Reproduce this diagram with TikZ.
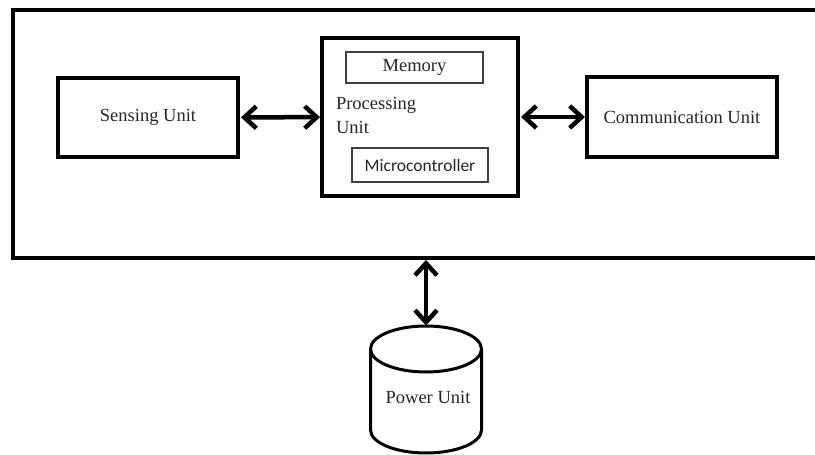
\documentclass[tikz,border=0pt]{standalone}
\usepackage{fontspec}
\setmainfont{Liberation Serif}
\newfontfamily\serfont{Liberation Serif}
\newfontfamily\calfont{Carlito}
\usetikzlibrary{arrows.meta}

\begin{document}
\begin{tikzpicture}[x=1pt, y=-1pt,
  every node/.style={inner sep=0pt, outer sep=0pt, text=black!85,
                     font=\serfont\fontsize{18.5}{22}\selectfont},
  unitbox/.style={draw=black, line width=3.8pt, rectangle},
  subbox/.style={draw=black!75, line width=1.1pt, rectangle},
  barbs/.style={{Straight Barb[length=12pt,width=22pt]}-{Straight Barb[length=12pt,width=22pt]}},
  biarrow/.style={draw=black, line width=4.5pt, barbs,
                  shorten <=3pt, shorten >=2pt},
]
\useasboundingbox (0,0) rectangle (815,455);
\clip (0,0) rectangle (815,455);

% sensor node enclosure (runs off to the right)
\node[unitbox, line width=4pt, minimum width=807pt, minimum height=248pt]
  (outer) at (416.5,134) {};

% units
\node[unitbox, minimum width=180pt, minimum height=79pt] (sense) at (148,117.5) {Sensing Unit};
\node[unitbox, minimum width=196pt, minimum height=158pt] (proc) at (420,117) {};
\node[unitbox, minimum width=190pt, minimum height=80pt] (comm) at (682,117) {Communication Unit};

% inside the processing unit
\node[subbox, minimum width=137pt, minimum height=31pt] (mem) at (414.5,67.5) {Memory};
\node[anchor=west, align=left, font=\serfont\fontsize{18.5}{24.5}\selectfont] (ptext) at (336,115.5) {Processing\\Unit};
\node[subbox, minimum width=136pt, minimum height=34pt, font=\calfont\fontsize{17.5}{20}\selectfont]
  (mcu) at (420,165) {Microcontroller};

% power unit cylinder
\coordinate (ptop) at (426,326);
\draw[line width=3pt] (426,349) ellipse [x radius=55.5, y radius=23];
\draw[line width=3pt] (370.5,349) -- (370.5,430)
  arc[start angle=180, end angle=0, x radius=55.5, y radius=23] -- (481.5,349);
\node (power) at (428,397) {Power Unit};

% connections
\draw[biarrow] (sense) -- (proc);
\draw[biarrow] (proc) -- (comm);
\draw[biarrow, shorten <=2pt, shorten >=0.5pt] (outer.south -| ptop) -- (ptop);
\end{tikzpicture}
\end{document}
